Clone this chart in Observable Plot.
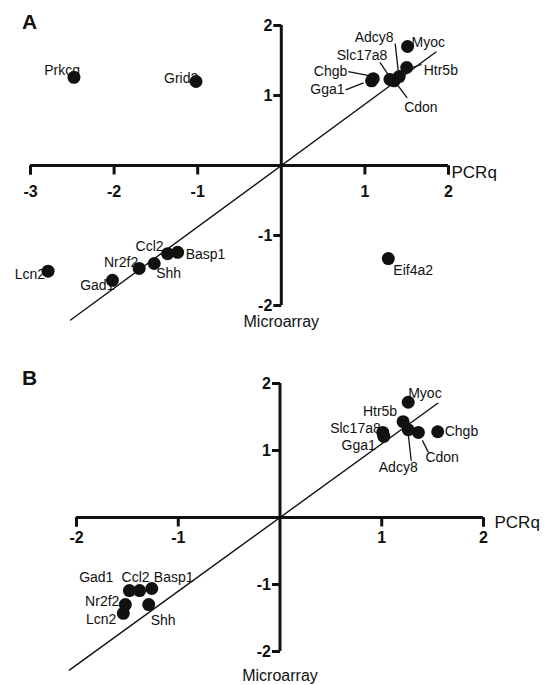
<!DOCTYPE html>
<html><head><meta charset="utf-8">
<script src="https://cdn.jsdelivr.net/npm/d3@7"></script>
<script src="https://cdn.jsdelivr.net/npm/@observablehq/plot@0.6"></script>
<style>
body{margin:0;background:#fff;font-family:"Liberation Sans",Arial,sans-serif;}
#wrap{position:relative;width:547px;height:685px;overflow:hidden;}
.panel{position:absolute;left:0;}
.letter{position:absolute;left:22px;font:bold 21px "Liberation Sans",Arial,sans-serif;line-height:1;color:#111;}
</style></head><body>
<div id="wrap"></div>
<script>
// ---------- Panel A data ----------
const genesA = ["Prkcq","Grid2","Adcy8","Myoc","Slc17a8","Htr5b","Chgb","Gga1","Cdon","Eif4a2","Lcn2","Gad1","Nr2f2","Shh","Ccl2","Basp1"];
const pcrqA  = [-2.48, -1.02, 1.41, 1.51, 1.30, 1.50, 1.10, 1.08, 1.35, 1.28, -2.79, -2.02, -1.70, -1.52, -1.36, -1.24];
const microA = [ 1.26,  1.20, 1.27, 1.70, 1.23, 1.40, 1.24, 1.21, 1.21, -1.33, -1.51, -1.64, -1.47, -1.40, -1.26, -1.24];
const xTicksA = [-3, -2, -1, 1, 2];
const yTicksA = [-2, -1, 1, 2];
const fitA = {slope: 0.876, from: -2.52, to: 1.85};

// ---------- Panel B data ----------
const genesB = ["Myoc","Htr5b","Adcy8","Cdon","Chgb","Slc17a8","Gga1","Gad1","Ccl2","Basp1","Nr2f2","Lcn2","Shh"];
const pcrqB  = [1.26, 1.21, 1.26, 1.36, 1.55, 1.01, 1.02, -1.48, -1.38, -1.26, -1.52, -1.54, -1.29];
const microB = [1.72, 1.43, 1.31, 1.27, 1.28, 1.27, 1.21, -1.09, -1.09, -1.06, -1.30, -1.43, -1.30];
const xTicksB = [-2, -1, 1, 2];
const yTicksB = [-2, -1, 1, 2];
const fitB = {slope: 1.10, from: -2.07, to: 1.55};

// ---------- label placement (pixel offsets from the dot) ----------
const placeA = {
  Prkcq: ["end", 6, -7], Grid2: ["start", -32, -3], Adcy8: ["middle", -25, -39],
  Myoc: ["start", 4, -4], Slc17a8: ["middle", -28, -24], Htr5b: ["start", 17, 3],
  Chgb: ["end", -26, -7], Gga1: ["end", -27, 9], Cdon: ["start", 10, 27],
  Eif4a2: ["start", 5, 12], Lcn2: ["end", -3, 3], Gad1: ["end", 2, 5],
  Nr2f2: ["end", -1, -6], Shh: ["start", 2, 10], Ccl2: ["end", -4, -7], Basp1: ["start", 8, 2]
};
const leadersA = {
  Adcy8: [-4, -33, -1, -6], Slc17a8: [-10, -17, -2, -5], Htr5b: [5, 0, 15, -3],
  Chgb: [-25, -7, -4, -3], Gga1: [-26, 9, -8, 2], Cdon: [4, 5, 13, 17]
};
const placeB = {
  Myoc: ["start", 0, -9], Htr5b: ["end", -6, -10], Adcy8: ["middle", -10, 38],
  Cdon: ["start", 7, 25], Chgb: ["start", 7, 0], Slc17a8: ["end", -2, -4], Gga1: ["end", -8, 9],
  Gad1: ["end", -16, -13], Ccl2: ["middle", -4, -13], Basp1: ["start", 2, -11],
  Nr2f2: ["end", -6, -3], Lcn2: ["end", -7, 6], Shh: ["start", 2, 16]
};
const leadersB = {
  Adcy8: [0, 4, 3, 31], Cdon: [4, 8, 10, 20]
};

const INK = "#111";
const tickDown = {draw(ctx){ ctx.moveTo(0, 0); ctx.lineTo(0, 9); }};
const tickLeft = {draw(ctx){ ctx.moveTo(0, 0); ctx.lineTo(-8, 0); }};

function panel(o) {
  const {genes, xs, ys, xTicks, yTicks, fit, place, leaders, width, height, m, xLabDy, pcrqDx, pcrqDy, microDy} = o;
  const xDomain = d3.extent([0, ...xTicks]);
  const yDomain = d3.extent([0, ...yTicks]);
  const sx = d3.scaleLinear(xDomain, [m.left, width - m.right]);
  const sy = d3.scaleLinear(yDomain, [height - m.bottom, m.top]);
  const pts = genes.map((g, i) => ({g, x: xs[i], y: ys[i]}));
  const labels = pts.map(p => {
    const [anchor, dx, dy] = place[p.g];
    return {g: p.g, anchor, x: sx.invert(sx(p.x) + dx), y: sy.invert(sy(p.y) + dy)};
  });
  const leads = pts.filter(p => leaders[p.g]).map(p => {
    const [a, b, c, d] = leaders[p.g];
    return {
      x1: sx.invert(sx(p.x) + a), y1: sy.invert(sy(p.y) + b),
      x2: sx.invert(sx(p.x) + c), y2: sy.invert(sy(p.y) + d)
    };
  });
  const fitLine = [fit.from, fit.to].map(x => ({x, y: fit.slope * x}));
  const labelMarks = ["start", "middle", "end"].map(a =>
    Plot.text(labels.filter(l => l.anchor === a), {
      x: "x", y: "y", text: "g", textAnchor: a, fontSize: 14, fill: INK
    }));
  return Plot.plot({
    width, height,
    marginLeft: m.left, marginRight: m.right, marginTop: m.top, marginBottom: m.bottom,
    style: {fontFamily: '"Liberation Sans", Arial, sans-serif', background: "transparent", overflow: "visible"},
    x: {domain: xDomain, axis: null},
    y: {domain: yDomain, axis: null},
    marks: [
      Plot.line(fitLine, {x: "x", y: "y", stroke: INK, strokeWidth: 1.4}),
      Plot.ruleY([0], {stroke: INK, strokeWidth: 3}),
      Plot.ruleX([0], {stroke: INK, strokeWidth: 3}),
      Plot.dot(xTicks, {x: d => d, y: () => 0, symbol: tickDown, fill: "none", stroke: INK, strokeWidth: 3}),
      Plot.dot(yTicks, {x: () => 0, y: d => d, symbol: tickLeft, fill: "none", stroke: INK, strokeWidth: 3}),
      Plot.dot([xDomain[0], xDomain[1]], {x: d => d, y: () => 0, symbol: tickDown, fill: "none", stroke: INK, strokeWidth: 3}),
      Plot.text(xTicks, {x: d => d, y: () => 0, text: d => String(d), dy: xLabDy, fontSize: 16, fontWeight: "bold", fill: INK}),
      Plot.text(yTicks, {x: () => 0, y: d => d, text: d => String(d), dx: -9, textAnchor: "end", fontSize: 16, fontWeight: "bold", fill: INK}),
      Plot.text(["PCRq"], {x: () => xDomain[1], y: () => 0, text: d => d, textAnchor: "start", dx: pcrqDx, dy: pcrqDy, fontSize: 17, fill: INK}),
      Plot.text(["Microarray"], {x: () => 0, y: () => yDomain[0], text: d => d, dy: microDy, fontSize: 16, fill: INK}),
      ...labelMarks,
      Plot.link(leads, {x1: "x1", y1: "y1", x2: "x2", y2: "y2", stroke: INK, strokeWidth: 1.3}),
      Plot.dot(pts, {x: "x", y: "y", r: 6.5, fill: INK})
    ]
  });
}

const wrap = document.getElementById("wrap");

const svgA = panel({
  genes: genesA, xs: pcrqA, ys: microA, xTicks: xTicksA, yTicks: yTicksA, fit: fitA,
  place: placeA, leaders: leadersA, width: 547, height: 340,
  m: {left: 30, right: 99, top: 25, bottom: 35}, xLabDy: 26, pcrqDx: 3, pcrqDy: 7, microDy: 16
});
svgA.classList.add("panel"); svgA.style.top = "0px";
wrap.appendChild(svgA);

const svgB = panel({
  genes: genesB, xs: pcrqB, ys: microB, xTicks: xTicksB, yTicks: yTicksB, fit: fitB,
  place: placeB, leaders: leadersB, width: 547, height: 340,
  m: {left: 76, right: 64, top: 38, bottom: 34}, xLabDy: 20, pcrqDx: 11, pcrqDy: 5, microDy: 24
});
svgB.classList.add("panel"); svgB.style.top = "345px";
wrap.appendChild(svgB);

for (const [t, top] of [["A", 11], ["B", 367]]) {
  const d = document.createElement("div");
  d.className = "letter"; d.textContent = t; d.style.top = top + "px";
  wrap.appendChild(d);
}
</script>
</body></html>
